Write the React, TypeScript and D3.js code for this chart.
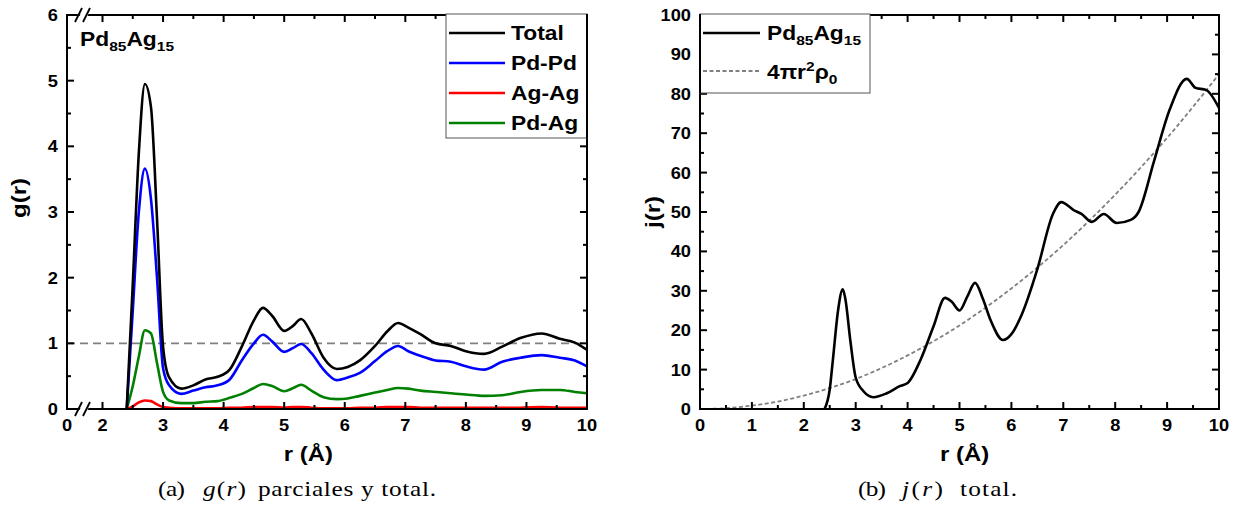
import React from "react";
import * as d3 from "d3";

// ---- data ----
const rLeft = [2.4, 2.5, 2.6, 2.7, 2.8, 2.9, 3.0, 3.1, 3.3, 3.5, 3.7, 3.9, 4.1, 4.3, 4.5, 4.65, 4.8, 5.0, 5.15, 5.28, 5.45, 5.65, 5.87, 6.05, 6.25, 6.5, 6.7, 6.88, 7.05, 7.25, 7.5, 7.75, 8.0, 8.3, 8.6, 8.9, 9.25, 9.55, 9.8, 10];
const gTotal = [0, 1.9, 3.9, 4.95, 4.6, 2.9, 0.95, 0.48, 0.31, 0.36, 0.45, 0.49, 0.6, 0.95, 1.35, 1.54, 1.42, 1.19, 1.27, 1.37, 1.15, 0.78, 0.61, 0.64, 0.74, 0.96, 1.18, 1.31, 1.24, 1.14, 1.0, 0.96, 0.88, 0.84, 0.95, 1.08, 1.15, 1.07, 1.01, 0.9];
const gPdPd = [0, 1.5, 3.0, 3.66, 3.2, 2.0, 0.62, 0.36, 0.23, 0.28, 0.33, 0.36, 0.45, 0.74, 1.0, 1.13, 1.03, 0.87, 0.93, 0.99, 0.85, 0.6, 0.44, 0.48, 0.55, 0.73, 0.88, 0.96, 0.88, 0.81, 0.74, 0.72, 0.65, 0.6, 0.72, 0.78, 0.82, 0.78, 0.74, 0.65];
const gAgAg = [0, 0.04, 0.1, 0.13, 0.12, 0.07, 0.03, 0.02, 0.01, 0.01, 0.01, 0.01, 0.02, 0.02, 0.03, 0.03, 0.03, 0.02, 0.03, 0.03, 0.02, 0.01, 0.01, 0.01, 0.02, 0.02, 0.03, 0.03, 0.03, 0.02, 0.02, 0.02, 0.02, 0.02, 0.02, 0.02, 0.03, 0.02, 0.02, 0.02];
const gPdAg = [0, 0.35, 0.8, 1.2, 1.15, 0.7, 0.26, 0.13, 0.09, 0.09, 0.11, 0.12, 0.17, 0.23, 0.32, 0.38, 0.35, 0.27, 0.32, 0.37, 0.28, 0.18, 0.15, 0.16, 0.2, 0.25, 0.29, 0.32, 0.31, 0.28, 0.26, 0.24, 0.22, 0.2, 0.21, 0.26, 0.29, 0.29, 0.26, 0.24];

const rRight = [2.4, 2.5, 2.56, 2.66, 2.75, 2.8, 2.9, 3.0, 3.15, 3.34, 3.6, 3.85, 4.0, 4.25, 4.5, 4.72, 4.85, 5.0, 5.15, 5.3, 5.45, 5.6, 5.84, 6.0, 6.2, 6.5, 6.8, 6.96, 7.2, 7.35, 7.55, 7.78, 8.03, 8.3, 8.45, 8.75, 9.05, 9.38, 9.55, 9.75, 10];
const jTotal = [0, 5, 12.4, 25, 30.4, 28, 17, 8, 4.5, 3.0, 4.0, 5.8, 6.6, 12.5, 21, 28.2, 27.2, 25, 28.5, 32, 28, 22.5, 17.5, 19, 24, 35.5, 49.5, 52.5, 50.5, 49.5, 47.5, 49.5, 47.2, 48, 50, 63, 76, 83.8, 81.5, 81, 76.4];

const rDens = [0, 0.5, 1, 1.5, 2, 2.5, 3, 3.5, 4, 4.5, 5, 5.5, 6, 6.5, 7, 7.5, 8, 8.5, 9, 9.5, 10];
const jDens = [0, 0.2, 0.85, 1.9, 3.4, 5.3, 7.6, 10.4, 13.6, 17.2, 21.2, 25.7, 30.6, 35.9, 41.6, 47.8, 54.4, 61.4, 68.8, 76.7, 85];

const leftSeries = [
  { name: "Total", color: "#000000", values: gTotal },
  { name: "Pd-Pd", color: "#0000ff", values: gPdPd },
  { name: "Ag-Ag", color: "#ff0000", values: gAgAg },
  { name: "Pd-Ag", color: "#008000", values: gPdAg },
];

const leftXTicks = [0, 2, 3, 4, 5, 6, 7, 8, 9, 10];
const leftXMinor = [2.5, 3.5, 4.5, 5.5, 6.5, 7.5, 8.5, 9.5];
const leftYTicks = [0, 1, 2, 3, 4, 5, 6];
const leftYMinor = [0.5, 1.5, 2.5, 3.5, 4.5, 5.5];
const rightXTicks = [0, 1, 2, 3, 4, 5, 6, 7, 8, 9, 10];
const rightXMinor = [0.5, 1.5, 2.5, 3.5, 4.5, 5.5, 6.5, 7.5, 8.5, 9.5];
const rightYTicks = [0, 10, 20, 30, 40, 50, 60, 70, 80, 90, 100];
const rightYMinor = [5, 15, 25, 35, 45, 55, 65, 75, 85, 95];

const SANS = "'Liberation Sans', Arial, sans-serif";
const SERIF = "'Liberation Serif', 'Times New Roman', serif";
const SX = 1.14; // the figure's sans text is a little wider than tall
const CX = 1.15; // same for the captions

const top = 15;
const bottom = 409;

// text stretched horizontally around its anchor
const T = ({ x, y, anchor = "start", size, children, rotate = 0 }: any) => (
  <text
    transform={`translate(${x},${y}) rotate(${rotate}) scale(${SX},1)`}
    textAnchor={anchor}
    fontFamily={SANS}
    fontWeight="bold"
    fontSize={size}
    fill="#000"
  >
    {children}
  </text>
);

const Frame = ({ x, y, xTicks, xMinor, yTicks, yMinor }: any) => {
  const [x0, x1] = [x.range()[0], x.range()[x.range().length - 1]];
  const [y0, y1] = [y.range()[0], y.range()[1]];
  return (
    <g stroke="#000" strokeWidth={2} fill="none">
      <rect x={x0} y={y1} width={x1 - x0} height={y0 - y1} />
      {xTicks.map((t: number) => (
        <g key={"xt" + t}>
          <line x1={x(t)} x2={x(t)} y1={y0} y2={y0 - 7} />
          <line x1={x(t)} x2={x(t)} y1={y1} y2={y1 + 7} />
        </g>
      ))}
      {xMinor.map((t: number) => (
        <g key={"xm" + t}>
          <line x1={x(t)} x2={x(t)} y1={y0} y2={y0 - 4} />
          <line x1={x(t)} x2={x(t)} y1={y1} y2={y1 + 4} />
        </g>
      ))}
      {yTicks.map((t: number) => (
        <g key={"yt" + t}>
          <line x1={x0} x2={x0 + 7} y1={y(t)} y2={y(t)} />
          <line x1={x1} x2={x1 - 7} y1={y(t)} y2={y(t)} />
        </g>
      ))}
      {yMinor.map((t: number) => (
        <g key={"ym" + t}>
          <line x1={x0} x2={x0 + 4} y1={y(t)} y2={y(t)} />
          <line x1={x1} x2={x1 - 4} y1={y(t)} y2={y(t)} />
        </g>
      ))}
    </g>
  );
};

const Formula = ({ x, y, size }: any) => (
  <T x={x} y={y} size={size}>
    Pd<tspan fontSize={size * 0.68} dy={5}>85</tspan>
    <tspan dy={-5}>Ag</tspan>
    <tspan fontSize={size * 0.68} dy={5}>15</tspan>
  </T>
);

// caption pieces placed like the LaTeX subcaption
const Cap = ({ x, y, w, children }: any) => (
  <text
    transform={`translate(${x},${y}) scale(${CX},1)`}
    fontFamily={SERIF}
    fontSize={22}
    fill="#000"
    textLength={w / CX}
    lengthAdjust="spacing"
  >
    {children}
  </text>
);

const App = () => {
  // left panel: broken x axis (0 | 2..10)
  const xL = d3.scaleLinear().domain([0, 2, 10]).range([67, 102.5, 587]);
  const yL = d3.scaleLinear().domain([0, 6]).range([bottom, top]);
  const xR = d3.scaleLinear().domain([0, 10]).range([700, 1219]);
  const yR = d3.scaleLinear().domain([0, 100]).range([bottom, top]);

  const lineL = (vals: number[]) =>
    d3.line<number>().x((_, i) => xL(rLeft[i])).y((d) => yL(d)).curve(d3.curveMonotoneX)(vals) || "";
  const lineJ = d3.line<number>().x((_, i) => xR(rRight[i])).y((d) => yR(d)).curve(d3.curveMonotoneX)(jTotal) || "";
  const lineD = d3.line<number>().x((_, i) => xR(rDens[i])).y((d) => yR(d)).curve(d3.curveMonotoneX)(jDens) || "";

  const bx = 80; // axis break position

  return (
    <svg width={1238} height={515} style={{ position: "absolute", left: 0, top: 0, background: "#fff" }}>
      <rect width={1238} height={515} fill="#fff" />

      {/* ---------- (a) g(r) ---------- */}
      <line x1={xL(0)} x2={xL(10)} y1={yL(1)} y2={yL(1)} stroke="#808080" strokeWidth={1.6} strokeDasharray="8,5" />
      {leftSeries.slice().reverse().map((s) => (
        <path key={s.name} d={lineL(s.values)} fill="none" stroke={s.color} strokeWidth={2.6} strokeLinejoin="round" />
      ))}
      <Frame x={xL} y={yL} xTicks={leftXTicks.slice(1)} xMinor={leftXMinor} yTicks={leftYTicks} yMinor={leftYMinor} />
      {/* axis break marks */}
      {[bottom, top].map((yy) => (
        <g key={"br" + yy}>
          <polygon points={`${bx - 3},${yy + 6} ${bx + 5},${yy + 6} ${bx + 11},${yy - 6} ${bx + 3},${yy - 6}`} fill="#fff" />
          <line x1={bx - 5} y1={yy + 7} x2={bx + 2} y2={yy - 7} stroke="#000" strokeWidth={1.8} />
          <line x1={bx + 3} y1={yy + 7} x2={bx + 10} y2={yy - 7} stroke="#000" strokeWidth={1.8} />
        </g>
      ))}
      {leftXTicks.map((t) => (
        <T key={"lx" + t} x={xL(t)} y={431} anchor="middle" size={16}>{t}</T>
      ))}
      {leftYTicks.map((t) => (
        <T key={"ly" + t} x={58} y={yL(t) + 6} anchor="end" size={16}>{t}</T>
      ))}
      <T x={xL(5.4)} y={461} anchor="middle" size={21}>r (Å)</T>
      <T x={26} y={198} anchor="middle" size={21} rotate={-90}>g(r)</T>
      <Formula x={80} y={46} size={20} />

      {/* legend (a) */}
      <rect x={446} y={14} width={141} height={124} fill="#fff" stroke="#555" strokeWidth={1} />
      {leftSeries.map((s, i) => (
        <g key={"lg" + s.name}>
          <line x1={449} x2={505} y1={33 + i * 30} y2={33 + i * 30} stroke={s.color} strokeWidth={2.6} />
          <T x={511} y={40 + i * 30} size={20}>{s.name}</T>
        </g>
      ))}
      <line x1={587} x2={587} y1={14} y2={138} stroke="#000" strokeWidth={2} />

      {/* ---------- (b) j(r) ---------- */}
      <path d={lineD} fill="none" stroke="#808080" strokeWidth={1.8} strokeDasharray="4,2.5" />
      <path d={lineJ} fill="none" stroke="#000" strokeWidth={2.6} strokeLinejoin="round" />
      <Frame x={xR} y={yR} xTicks={rightXTicks} xMinor={rightXMinor} yTicks={rightYTicks} yMinor={rightYMinor} />
      {rightXTicks.map((t) => (
        <T key={"rx" + t} x={xR(t)} y={431} anchor="middle" size={16}>{t}</T>
      ))}
      {rightYTicks.map((t) => (
        <T key={"ry" + t} x={691} y={yR(t) + 6} anchor="end" size={16}>{t}</T>
      ))}
      <T x={xR(5.1)} y={461} anchor="middle" size={21}>r (Å)</T>
      <T x={660} y={212} anchor="middle" size={21} rotate={-90}>j(r)</T>

      {/* legend (b) */}
      <rect x={700} y={14} width={170} height={79} fill="#fff" stroke="#555" strokeWidth={1} />
      <line x1={700} x2={700} y1={14} y2={93} stroke="#000" strokeWidth={2} />
      <line x1={703} x2={760} y1={33} y2={33} stroke="#000" strokeWidth={2.6} />
      <Formula x={767} y={40} size={20} />
      <line x1={703} x2={760} y1={71} y2={71} stroke="#808080" strokeWidth={1.8} strokeDasharray="4,2.5" />
      <T x={767} y={79} size={20}>
        4πr<tspan fontSize={13.6} dy={-8}>2</tspan>
        <tspan dy={8}>ρ</tspan>
        <tspan fontSize={13.6} dy={5}>0</tspan>
      </T>

      {/* captions */}
      <Cap x={158} y={496} w={27}>(a)</Cap>
      <Cap x={203} y={496} w={43}>
        <tspan fontStyle="italic">g</tspan>(<tspan fontStyle="italic">r</tspan>)
      </Cap>
      <Cap x={258} y={496} w={178}>parciales y total.</Cap>
      <Cap x={858} y={496} w={28}>(b)</Cap>
      <Cap x={902} y={496} w={41}>
        <tspan fontStyle="italic">j</tspan>(<tspan fontStyle="italic">r</tspan>)
      </Cap>
      <Cap x={960} y={496} w={57}>total.</Cap>
    </svg>
  );
};

export default App;
